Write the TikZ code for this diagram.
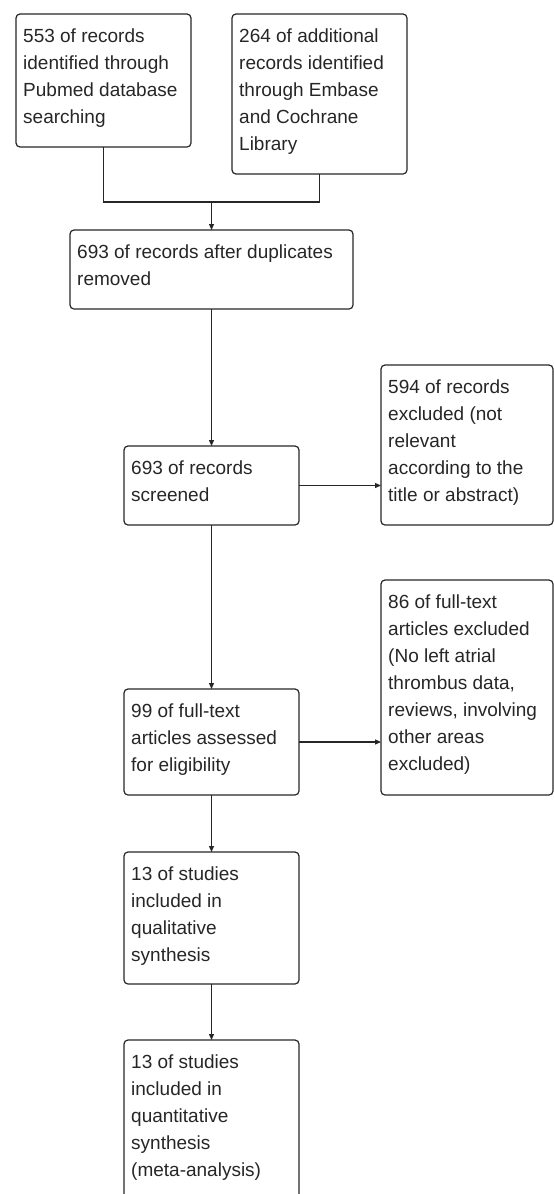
\documentclass[tikz,border=0pt]{standalone}
\usepackage{fontspec}
\setmainfont{Liberation Sans}
\usetikzlibrary{arrows.meta}
\begin{document}
\begin{tikzpicture}[x=1pt,y=-1pt,
  box/.style={draw=black!85, line width=1.2pt, rounded corners=4pt, inner sep=0pt, outer sep=0pt, anchor=north west},
  txt/.style={anchor=north west, inner sep=0pt, align=left, text=black!85, font=\fontsize{19}{27}\selectfont},
  arr/.style={draw=black!85, line width=1.2pt, -{Triangle[length=6pt,width=5pt]}},
  ln/.style={draw=black!85, line width=1.2pt}]
\useasboundingbox (0,0) rectangle (554,1194);
\clip (0,0) rectangle (554,1194);
% boxes
\node[box, minimum width=175pt, minimum height=133pt] (b1) at (16,14) {};
\node[box, minimum width=175pt, minimum height=160pt] (b2) at (232,14) {};
\node[box, minimum width=283pt, minimum height=79pt] (b3) at (70,230) {};
\node[box, minimum width=175pt, minimum height=79pt] (b4) at (124,446) {};
\node[box, minimum width=172pt, minimum height=160pt] (b5) at (381,365) {};
\node[box, minimum width=172pt, minimum height=215pt] (b6) at (381,580) {};
\node[box, minimum width=175pt, minimum height=106pt] (b7) at (124,689) {};
\node[box, minimum width=175pt, minimum height=132pt] (b8) at (124,852) {};
\node[box, minimum width=175pt, minimum height=220pt] (b9) at (124,1040) {};
% texts
\node[txt] (t1) at ([xshift=7pt]b1.north west) {\rule{0pt}{28pt}553 of records\\identified through\\Pubmed database\\searching};
\node[txt] (t2) at ([xshift=7pt]b2.north west) {\rule{0pt}{28pt}264 of additional\\records identified\\through Embase\\and Cochrane\\Library};
\node[txt] (t3) at ([xshift=7pt]b3.north west) {\rule{0pt}{28pt}693 of records after duplicates\\removed};
\node[txt] (t4) at ([xshift=7pt]b4.north west) {\rule{0pt}{28pt}693 of records\\screened};
\node[txt] (t5) at ([xshift=7pt]b5.north west) {\rule{0pt}{28pt}594 of records\\excluded (not\\relevant\\according to the\\title or abstract)};
\node[txt] (t6) at ([xshift=7pt]b6.north west) {\rule{0pt}{28pt}86 of full-text\\articles excluded\\(No left atrial\\thrombus data,\\reviews, involving\\other areas\\excluded)};
\node[txt] (t7) at ([xshift=7pt]b7.north west) {\rule{0pt}{28pt}99 of full-text\\articles assessed\\for eligibility};
\node[txt] (t8) at ([xshift=7pt]b8.north west) {\rule{0pt}{28pt}13 of studies\\included in\\qualitative\\synthesis};
\node[txt] (t9) at ([xshift=7pt]b9.north west) {\rule{0pt}{28pt}13 of studies\\included in\\quantitative\\synthesis\\(meta-analysis)};
% connectors
\coordinate (j) at (211.5,202);
\draw[ln] (b1.south) |- (j) -| (b2.south);
\draw[arr] (j) -- (b3.north);
\draw[arr] (b3.south) -- (b4.north);
\draw[arr] (b4.east) -- (b4.east -| b5.west);
\draw[arr] (b4.south) -- (b7.north);
\draw[arr] (b7.east) -- (b7.east -| b6.west);
\draw[arr] (b7.south) -- (b8.north);
\draw[arr] (b8.south) -- (b9.north);
\end{tikzpicture}
\end{document}
